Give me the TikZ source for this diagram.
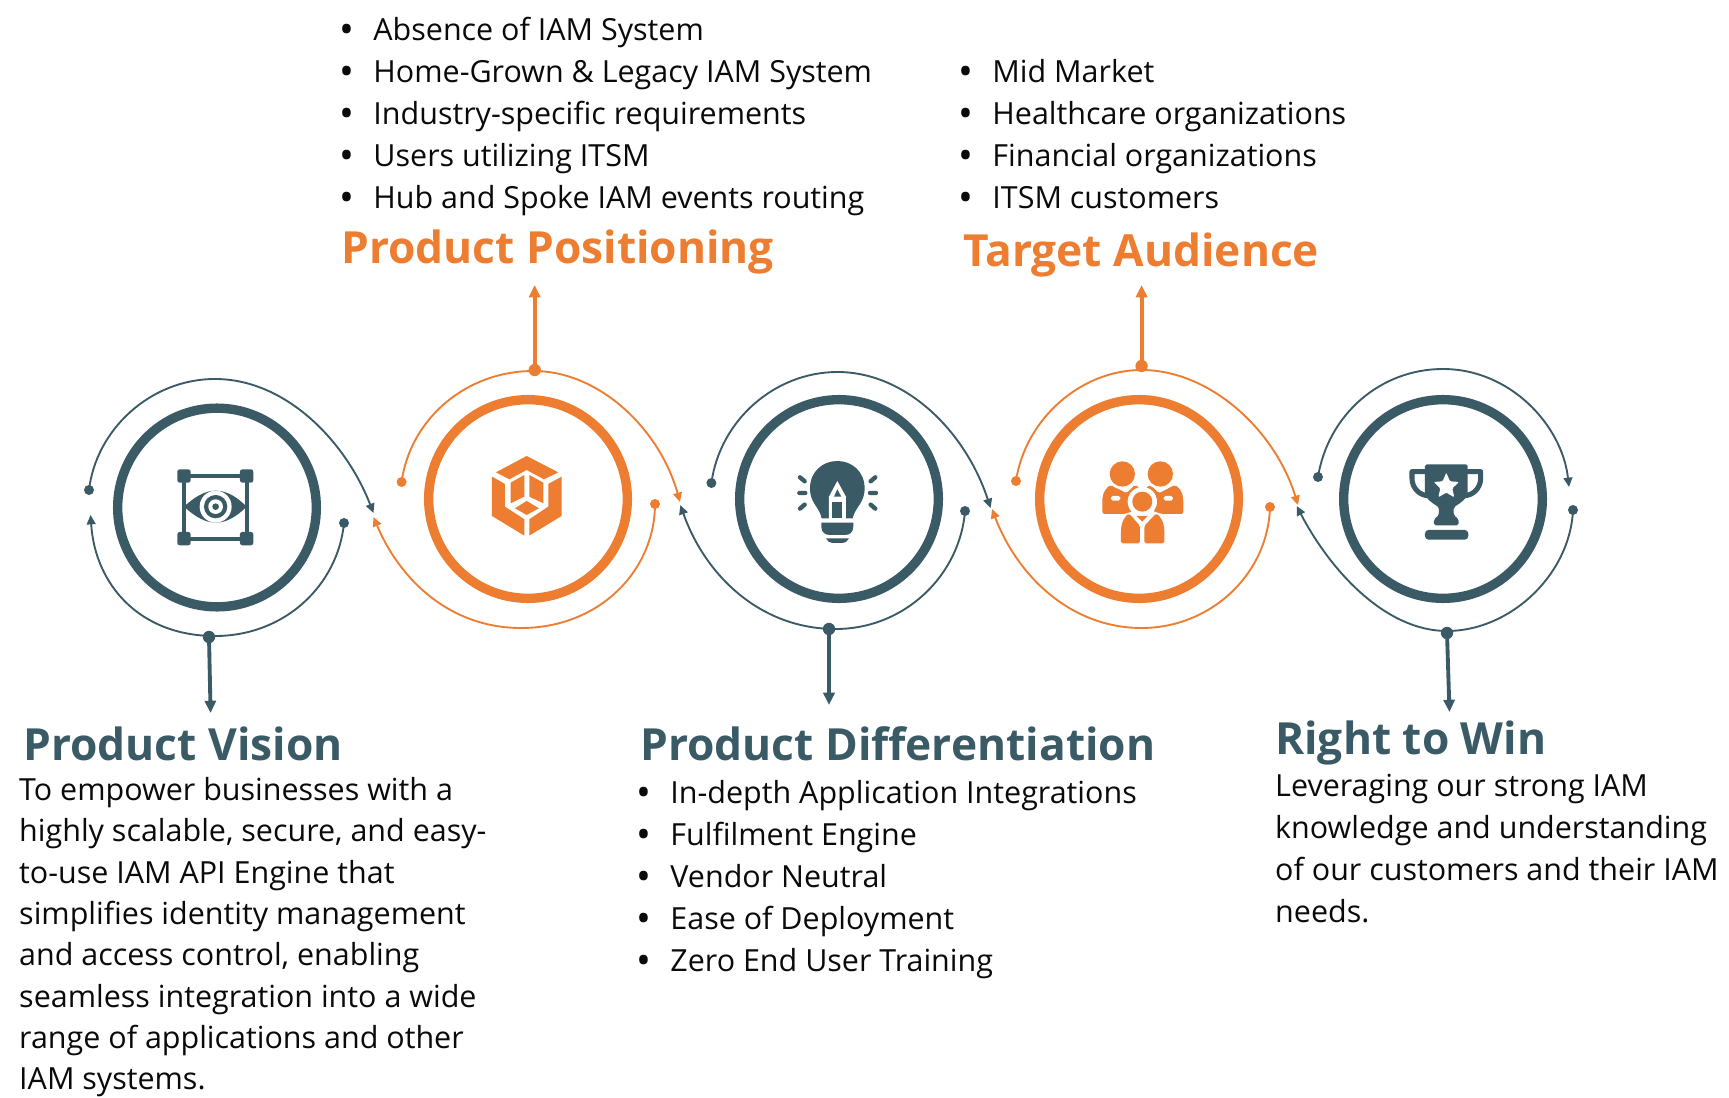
\documentclass[tikz,border=0pt]{standalone}
\usepackage{fontspec}
\setmainfont{Open Sans}
\definecolor{teal1}{HTML}{3A5A66}
\definecolor{orange1}{HTML}{ED7D31}
\definecolor{txt}{HTML}{0A0A0A}
\usetikzlibrary{arrows.meta}
\tikzset{
 x=0.03cm,y=-0.03cm,
 thinT/.style={line width=1.6pt,teal1,-{Triangle[length=8pt,width=7.5pt]}},
 thinO/.style={line width=1.6pt,orange1,-{Triangle[length=8pt,width=7.5pt]}},
 stemT/.style={line width=3.3pt,teal1,-{Triangle[length=10.5pt,width=9.5pt]}},
 stemO/.style={line width=3.3pt,orange1,-{Triangle[length=10.5pt,width=9.5pt]}},
 ringT/.style={circle,draw=teal1,line width=8pt,minimum size=5.96cm,inner sep=0pt,fill=white},
 ringO/.style={circle,draw=orange1,line width=8pt,minimum size=5.96cm,inner sep=0pt,fill=white},
 dotT/.style={circle,fill=teal1,inner sep=0pt,minimum size=0.3cm},
 dotO/.style={circle,fill=orange1,inner sep=0pt,minimum size=0.3cm},
 bigdotT/.style={circle,fill=teal1,inner sep=0pt,minimum size=0.37cm},
 bigdotO/.style={circle,fill=orange1,inner sep=0pt,minimum size=0.37cm},
 bigT/.style={anchor=base west,inner sep=0pt,font=\bfseries\fontsize{37.8pt}{37.8pt}\selectfont,text=teal1},
 bigO/.style={anchor=base west,inner sep=0pt,font=\bfseries\fontsize{37.8pt}{37.8pt}\selectfont,text=orange1},
 body/.style={anchor=north west,inner sep=0pt,align=left,text=txt,font=\fontsize{26pt}{35.8pt}\selectfont},
 bodytight/.style={body,font=\fontsize{26pt}{35.3pt}\selectfont},
 iconscale/.style={x=0.01cm,y=-0.01cm},
}
\newcommand{\bl}[1]{\makebox[27.5pt][l]{\hspace{-1.2pt}\raisebox{-2.6pt}{\scalebox{1.3}{\textbullet}}}#1\\}
\begin{document}
\begin{tikzpicture}
\useasboundingbox (0,0) rectangle (1729,1098);
% rings
\node[ringT] (r1) at (217,507.5) {};
\node[ringO] (r2) at (528,499) {};
\node[ringT] (r3) at (839,499) {};
\node[ringO] (r4) at (1139,499) {};
\node[ringT] (r5) at (1443,499) {};
% arc ends
\node[dotT] (a1s) at (89,490) {};
\coordinate (a1e) at (373.5,513);
\node[dotT] (b1s) at (344,523) {};
\coordinate (b1e) at (90.6,515);
\node[dotO] (a2s) at (401.6,482) {};
\coordinate (a2e) at (680,502);
\node[dotO] (b2s) at (655,504) {};
\coordinate (b2e) at (373.5,517);
\node[dotT] (a3s) at (711.4,483) {};
\coordinate (a3e) at (990.6,508);
\node[dotT] (b3s) at (965,511) {};
\coordinate (b3e) at (680.4,505);
\node[dotO] (a4s) at (1016,481) {};
\coordinate (a4e) at (1298,505);
\node[dotO] (b4s) at (1270,507) {};
\coordinate (b4e) at (992,509);
\node[dotT] (a5s) at (1318,477) {};
\coordinate (a5e) at (1569,487);
\node[dotT] (b5s) at (1573,510) {};
\coordinate (b5e) at (1296.7,506);
% arcs
\draw[thinT] (a1s.center) .. controls (96,430) and (150,379) .. (215,379) .. controls (285,379) and (345,440) .. (a1e);
\draw[thinT] (b1s.center) .. controls (338,585) and (285,636) .. (215,636) .. controls (140,636) and (95,585) .. (b1e);
\draw[thinO] (a2s.center) .. controls (410,420) and (465,371) .. (533.5,371) .. controls (600,371) and (660,430) .. (a2e);
\draw[thinO] (b2s.center) .. controls (655,570) and (600,628) .. (521,628) .. controls (450,628) and (400,580) .. (b2e);
\draw[thinT] (a3s.center) .. controls (720,420) and (775,372) .. (837.5,372) .. controls (905,372) and (965,430) .. (a3e);
\draw[thinT] (b3s.center) .. controls (960,575) and (905,629) .. (835.5,629) .. controls (760,629) and (705,575) .. (b3e);
\draw[thinO] (a4s.center) .. controls (1025,420) and (1080,370) .. (1141.6,370) .. controls (1210,370) and (1275,430) .. (a4e);
\draw[thinO] (b4s.center) .. controls (1268,575) and (1210,628) .. (1141.6,628) .. controls (1070,628) and (1017,575) .. (b4e);
\draw[thinT] (a5s.center) .. controls (1328,415) and (1380,369) .. (1443,369) .. controls (1510,369) and (1562,425) .. (a5e);
\draw[thinT] (b5s.center) .. controls (1570,575) and (1510,631) .. (1447,631) .. controls (1385,631) and (1330,570) .. (b5e);
% stems
\node[bigdotT] (d1) at (209,637) {};
\coordinate (e1) at (210.6,713);
\draw[stemT] (d1.center) -- (e1);
\node[bigdotO] (d2) at (534.7,370) {};
\coordinate (e2) at (534.7,285);
\draw[stemO] (d2.center) -- (e2);
\node[bigdotT] (d3) at (829,629) {};
\coordinate (e3) at (829,705);
\draw[stemT] (d3.center) -- (e3);
\node[bigdotO] (d4) at (1141.6,366) {};
\coordinate (e4) at (1141.6,285);
\draw[stemO] (d4.center) -- (e4);
\node[bigdotT] (d5) at (1447,633) {};
\coordinate (e5) at (1449.5,712);
\draw[stemT] (d5.center) -- (e5);
% icon 1: eye in a frame
\begin{scope}[shift={(160,450)},iconscale]
\draw[teal1,line width=3.4pt] (72,78) rectangle (260,266);
\foreach \px/\py in {52/58,240/58,52/246,240/246}{
 \fill[teal1,rounded corners=2pt] (\px,\py) rectangle ++(40,40);}
\fill[teal1] (72,170) .. controls (105,140) and (135,122) .. (167,122) .. controls (200,122) and (230,140) .. (260,170) .. controls (230,200) and (200,218) .. (167,218) .. controls (135,218) and (105,200) .. (72,170) -- cycle;
\fill[white] (167,170) circle[radius=0.48cm];
\fill[teal1] (167,170) circle[radius=0.35cm];
\fill[white] (167,170) circle[radius=0.22cm];
\fill[teal1] (167,170) circle[radius=0.1cm];
\end{scope}
% icon 2: cube
\begin{scope}[shift={(470,440)},iconscale]
\fill[orange1] (78,97) -- (170,48) -- (265,97) -- (222,118) -- (170,90) -- (118,118) -- cycle;
\fill[orange1] (66,110) -- (105,132) -- (105,200) -- (163,238) -- (163,287) -- (66,228) -- cycle;
\fill[orange1] (275,110) -- (235,132) -- (235,200) -- (178,238) -- (178,287) -- (275,228) -- cycle;
\fill[orange1] (122,128) -- (163,105) -- (163,170) -- (122,190) -- cycle;
\fill[orange1] (178,105) -- (220,128) -- (220,190) -- (178,170) -- cycle;
\fill[orange1] (135,205) -- (170,183) -- (207,205) -- (170,225) -- cycle;
\end{scope}
% icon 3: bulb
\begin{scope}[shift={(780,450)},iconscale]
\fill[teal1] (125,205) .. controls (118,170) and (90,160) .. (90,115) .. controls (90,65) and (128,33) .. (172,33) .. controls (216,33) and (254,65) .. (254,115) .. controls (254,160) and (226,170) .. (218,205) -- cycle;
\fill[white] (147,210) -- (147,140) -- (172,93) -- (198,140) -- (198,210) -- cycle;
\fill[teal1] (172,118) -- (162,140) -- (184,140) -- cycle;
\fill[teal1] (157,155) rectangle (187,205);
\fill[teal1] (124,218) -- (220,218) -- (220,230) .. controls (220,248) and (208,255) .. (195,255) -- (150,255) .. controls (136,255) and (124,248) .. (124,230) -- cycle;
\fill[teal1] (138,265) -- (207,265) .. controls (203,274) and (196,279) .. (188,279) -- (157,279) .. controls (149,279) and (142,274) .. (138,265) -- cycle;
\draw[teal1,line width=3.7pt,line cap=round] (60,82) -- (74,94) (58,129) -- (76,129) (60,176) -- (74,164) (286,82) -- (272,94) (288,129) -- (270,129) (286,176) -- (272,164);
\end{scope}
% icon 4: people
\begin{scope}[shift={(1085,450)},iconscale]
\fill[orange1,rounded corners=1.5pt] (52,192) -- (52,150) .. controls (54,125) and (66,112) .. (78,105) -- (125,130) -- (150,105) .. controls (170,115) and (180,130) .. (180,170) -- (120,192) -- cycle;
\fill[orange1,rounded corners=1.5pt] (295,192) -- (295,150) .. controls (293,125) and (281,112) .. (269,105) -- (222,130) -- (197,105) .. controls (177,115) and (167,130) .. (167,170) -- (230,192) -- cycle;
\fill[white] (112,72) circle[radius=0.46cm];
\fill[white] (226,72) circle[radius=0.46cm];
\fill[orange1] (112,72) circle[radius=0.38cm];
\fill[orange1] (226,72) circle[radius=0.38cm];
\fill[white] (172,155) circle[radius=0.44cm];
\fill[white,rounded corners=1.5pt] (78,138) rectangle (106,152);
\fill[white,rounded corners=1.5pt] (236,138) rectangle (264,152);
\fill[white] (100,195) rectangle (245,285);
\fill[orange1] (172,155) circle[radius=0.3cm];
\fill[orange1,rounded corners=1.5pt] (108,280) -- (108,240) .. controls (110,215) and (120,200) .. (132,190) -- (165,228) -- (165,280) -- cycle;
\fill[orange1,rounded corners=1.5pt] (238,280) -- (238,240) .. controls (236,215) and (226,200) .. (214,190) -- (178,228) -- (178,280) -- cycle;
\fill[orange1] (155,198) -- (188,198) -- (172,215) -- cycle;
\end{scope}
% icon 5: trophy
\begin{scope}[shift={(1385,450)},iconscale]
\draw[teal1,line width=4.3pt,line join=round] (125,65) -- (81,65) -- (81,85) .. controls (81,115) and (105,137) .. (130,137);
\draw[teal1,line width=4.3pt,line join=round] (243,65) -- (287,65) -- (287,85) .. controls (287,115) and (263,137) .. (238,137);
\fill[teal1,rounded corners=1.5pt] (120,43) -- (248,43) -- (248,125) .. controls (248,145) and (225,160) .. (206,172) -- (206,195) -- (221,208) -- (221,226) -- (147,226) -- (147,208) -- (162,195) -- (162,172) .. controls (143,160) and (120,145) .. (120,125) -- cycle;
\fill[white,rounded corners=1pt] (184,68) -- (195,94) -- (222,96) -- (202,115) -- (208,142) -- (184,128) -- (160,142) -- (166,115) -- (146,96) -- (173,94) -- cycle;
\fill[teal1,rounded corners=3pt] (120,240) rectangle (250,269);
\end{scope}
% texts
\node[body] (t1) at (341,17) {\bl{Absence of IAM System}\bl{Home-Grown \& Legacy IAM System}\bl{Industry-specific requirements}\bl{Users utilizing ITSM}\bl{Hub and Spoke IAM events routing}};
\node[body] (t2) at (960,59) {\bl{Mid Market}\bl{Healthcare organizations}\bl{Financial organizations}\bl{ITSM customers}};
\node[bigO] (h2) at (341,263) {Product Positioning};
\node[bigO] (h4) at (963,266) {Target Audience};
\node[bigT] (h1) at (23,760) {Product Vision};
\node[bigT] (h3) at (640,760) {Product Differentiation};
\node[bigT] (h5) at (1275,754) {Right to Win};
\node[bodytight] (b1) at (19,777) {To empower businesses with a\\highly scalable, secure, and easy-\\to-use IAM API Engine that\\simplifies identity management\\and access control, enabling\\seamless integration into a wide\\range of applications and other\\IAM systems.};
\node[body] (b3) at (638,780) {\bl{In-depth Application Integrations}\bl{Fulfilment Engine}\bl{Vendor Neutral}\bl{Ease of Deployment}\bl{Zero End User Training}};
\node[body] (b5) at (1275,774) {Leveraging our strong IAM\\knowledge and understanding\\of our customers and their IAM\\needs.};
\end{tikzpicture}
\end{document}
